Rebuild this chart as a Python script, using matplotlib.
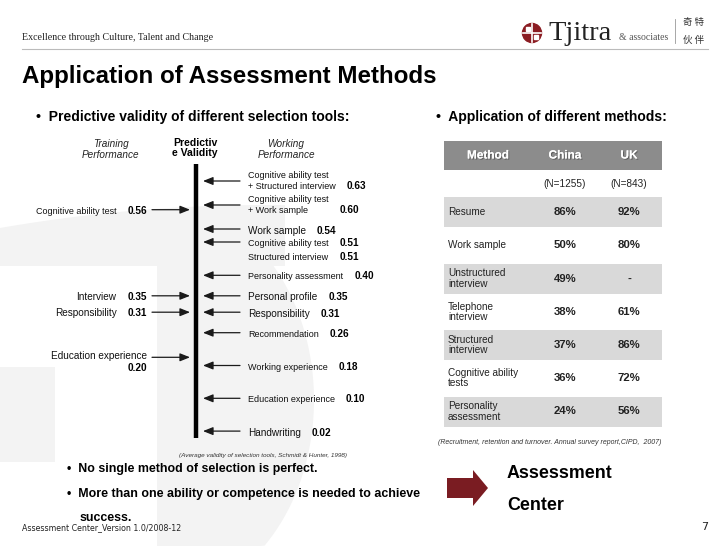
import matplotlib
matplotlib.use("Agg")
import matplotlib.pyplot as plt
import matplotlib.patches as mpatches
import matplotlib.patheffects as pe
import numpy as np

# ---- data ----
right_labels = ["Cognitive ability test\n+ Structured interview",
                "Cognitive ability test\n+ Work sample",
                "Work sample",
                "Cognitive ability test",
                "Structured interview",
                "Personality assessment",
                "Personal profile",
                "Responsibility",
                "Recommendation",
                "Working experience",
                "Education experience",
                "Handwriting"]
right_values = [0.63, 0.60, 0.54, 0.51, 0.51, 0.40, 0.35, 0.31, 0.26, 0.18, 0.10, 0.02]

left_labels = ["Cognitive ability test", "Interview", "Responsibility", "Education experience"]
left_values = [0.56, 0.35, 0.31, 0.20]

methods = ["Resume", "Work sample", "Unstructured\ninterview", "Telephone\ninterview",
           "Structured\ninterview", "Cognitive ability\ntests", "Personality\nassessment"]
china_pct = [86, 50, 49, 38, 37, 36, 24]
uk_pct = [92, 80, None, 61, 86, 72, 56]
table_columns = ["Method", "China", "UK"]
sample_sizes = ["(N=1255)", "(N=843)"]

# ---- styles ----
SANS = "Liberation Sans"
SERIF = "Liberation Serif"
big_right = {"Work sample", "Personal profile", "Responsibility", "Handwriting"}
left_stacked = [False, False, False, True]
WM = "#f3f3f3"

fig = plt.figure(figsize=(7.28, 5.46), dpi=100)

# background axes in slide pixels
bg = fig.add_axes([0, 0, 1, 1])
bg.set_xlim(0, 728)
bg.set_ylim(546, 0)
bg.axis("off")

# faint watermark
xs = np.linspace(0, 285, 60)
top = 205 + 23 * ((xs - 265) / 265) ** 2
band = np.column_stack([np.r_[xs, 285, 0], np.r_[top, 266, 266]])
bg.add_patch(mpatches.Polygon(band, closed=True, color=WM, lw=0, zorder=0))
bg.add_patch(mpatches.Rectangle((0, 367), 55, 95, color=WM, lw=0, zorder=0))
t = np.linspace(-np.pi / 2, np.pi / 2, 80)
dx = 157 + 157 * np.cos(t)
dy = 400 + 200 * np.sin(t)
dshape = np.column_stack([dx, np.clip(dy, 230, 546)])
bg.add_patch(mpatches.Polygon(np.vstack([dshape, [[157, 546], [157, 230]]]),
                              closed=True, color=WM, lw=0, zorder=0))

# header
bg.text(22, 38, "Excellence through Culture, Talent and Change", family=SERIF,
        fontsize=7.2, va="center", color="#222222")
bg.plot([22, 708], [49, 49], color="#bbbbbb", lw=0.8)
bg.add_patch(mpatches.Circle((532, 33), 9.5, color="#8b1c22", zorder=3))
bg.plot([532, 532], [24, 42], color="white", lw=1.2, zorder=4)
bg.plot([523, 541], [33, 33], color="white", lw=1.2, zorder=4)
bg.add_patch(mpatches.Rectangle((526, 27), 4, 4, color="white", zorder=4))
bg.add_patch(mpatches.Rectangle((534, 35), 4, 4, color="white", zorder=4))
bg.text(548, 40, "Tjitra", family=SERIF, fontsize=20.5, va="baseline", color="#222222")
bg.text(619, 40, "& associates", family=SERIF, fontsize=7, va="baseline", color="#555555")
bg.plot([675, 675], [19, 43], color="#999999", lw=0.6)
bg.text(694, 23, "奇 特", family=["Noto Sans CJK SC", "DejaVu Sans"], fontsize=6.8,
        ha="center", va="center", color="#333333")
bg.text(694, 40, "伙 伴", family=["Noto Sans CJK SC", "DejaVu Sans"], fontsize=6.8,
        ha="center", va="center", color="#333333")

bg.text(22, 77, "Application of Assessment Methods", family=SANS, fontsize=17.4,
        weight="bold", va="center")
bg.text(36, 117, "•  Predictive validity of different selection tools:", family=SANS,
        fontsize=10, weight="bold", va="center")
bg.text(436, 117, "•  Application of different methods:", family=SANS,
        fontsize=10, weight="bold", va="center")

# column headings of the validity diagram
bg.text(111, 149.5, "Training\nPerformance", family=SANS, fontsize=7.2, style="italic",
        ha="center", va="center", linespacing=1.05, color="#222222")
bg.text(195, 148, "Predictiv\ne Validity", family=SANS, fontsize=7.6, weight="bold",
        ha="center", va="center", linespacing=1.1)
bg.text(286, 149.5, "Working\nPerformance", family=SANS, fontsize=7.2, style="italic",
        ha="center", va="center", linespacing=1.05, color="#222222")
bg.text(263, 455, "(Average validity of selection tools, Schmidt & Hunter, 1998)",
        family=SANS, fontsize=4.6, style="italic", ha="center", va="center", color="#333333")

# ---- validity diagram: y axis is the validity value ----
PX = 410.0           # slide pixels per validity unit
V_REF, Y_REF = 0.63, 181
ax = fig.add_axes([0, 0, 1, 1])
ax.patch.set_alpha(0)
ax.set_xlim(0, 728)
ax.set_ylim(V_REF - (546 - Y_REF) / PX, V_REF + Y_REF / PX)
ax.axis("off")

# group equal values onto one arrow and push crowded labels down
groups = []
for lab, v in zip(right_labels, right_values):
    if groups and groups[-1][0] == v:
        groups[-1][1].append(lab)
    else:
        groups.append([v, [lab]])
arrow_y = []
prev, prev_lines = None, 0
for v, labs in groups:
    y = v if prev is None else min(v, prev - (11 * prev_lines + 2) / PX)
    arrow_y.append(y)
    prev, prev_lines = y, sum(l.count("\n") + 1 for l in labs)

def down(px):
    return px / PX

arrow_kw = dict(arrowstyle="-|>,head_length=0.6,head_width=0.24", lw=0.9,
                color="#1a1a1a", shrinkA=0, shrinkB=0)

for (v, labs), y in zip(groups, arrow_y):
    ax.annotate("", xy=(203, y), xytext=(240, y), arrowprops=arrow_kw)
    for j, lab in enumerate(labs):
        fs = 7.2 if lab in big_right else 6.5
        if "\n" in lab:
            ty = y
        else:
            ty = y - down(1.5 + 14 * j)
        txt = ax.text(248, ty, lab, family=SANS, fontsize=fs, va="center",
                      linespacing=1.15, color="#111111")
        ax.annotate(f"{v:.2f}", xy=(1, 0), xycoords=txt, xytext=(8, 0),
                    textcoords="offset points", family=SANS, fontsize=7.2,
                    weight="bold", ha="left", va="bottom")

for lab, v, stacked in zip(left_labels, left_values, left_stacked):
    ax.annotate("", xy=(190, v), xytext=(152, v), arrowprops=arrow_kw)
    fs = 6.5 if lab.startswith("Cognitive") else 7.2
    if stacked:
        ax.text(147, v + down(1), lab, family=SANS, fontsize=fs, ha="right",
                va="center", color="#111111")
        ax.text(147, v - down(11), f"{v:.2f}", family=SANS, fontsize=7.2,
                weight="bold", ha="right", va="center")
    else:
        val = ax.text(147, v - down(1), f"{v:.2f}", family=SANS, fontsize=7.2,
                      weight="bold", ha="right", va="center")
        ax.annotate(lab, xy=(0, 0), xycoords=val, xytext=(-8, 0),
                    textcoords="offset points", family=SANS, fontsize=fs,
                    ha="right", va="bottom", color="#111111")

# vertical validity bar
ax.plot([196, 196], [arrow_y[-1] - down(7), arrow_y[0] + down(17)],
        color="black", lw=3.2, solid_capstyle="butt")

# ---- methods table ----
TX0, TX1 = 444, 662
col_x = [448, 565, 629]
bg.add_patch(mpatches.Rectangle((TX0, 141), TX1 - TX0, 29, color="#8c8c8c", lw=0))
shadow = [pe.withSimplePatchShadow(offset=(0.8, -0.8), shadow_rgbFace="#444444", alpha=0.6),
          pe.Normal()]
for k, name in enumerate(table_columns):
    bg.text(col_x[k] + (40 if k == 0 else 0), 155.5, name, family=SANS, fontsize=8.5,
            weight="bold", color="white", ha="center", va="center", path_effects=shadow)
for k, n in enumerate(sample_sizes):
    bg.text(col_x[k + 1], 184, n, family=SANS, fontsize=7.2, ha="center", va="center",
            color="#222222")
for i, (m, c, u) in enumerate(zip(methods, china_pct, uk_pct)):
    ry = 212 + 33.25 * i
    if i % 2 == 0:
        bg.add_patch(mpatches.Rectangle((TX0, ry - 15), TX1 - TX0, 30,
                                        color="#d9d9d9", lw=0))
    bg.text(col_x[0], ry, m, family=SANS, fontsize=7.2, va="center",
            linespacing=1.05, color="#222222")
    bg.text(col_x[1], ry, f"{c}%", family=SANS, fontsize=8.2, weight="bold",
            ha="center", va="center", color="#222222")
    bg.text(col_x[2], ry, "-" if u is None else f"{u}%", family=SANS, fontsize=8.2,
            weight="bold", ha="center", va="center", color="#222222")
bg.text(550, 442, "(Recruitment, retention and turnover. Annual survey report,CIPD,  2007)",
        family=SANS, fontsize=5.0, style="italic", ha="center", va="center", color="#333333")

# ---- conclusions ----
bg.text(67, 469, "•  No single method of selection is perfect.", family=SANS,
        fontsize=8.9, weight="bold", va="center")
bg.text(67, 494, "•  More than one ability or competence is needed to achieve",
        family=SANS, fontsize=8.9, weight="bold", va="center")
bg.text(80, 518, "success.", family=SANS, fontsize=8.9, weight="bold", va="center")
bg.add_patch(mpatches.FancyArrow(447, 488, 41, 0, width=20, head_width=36,
                                 head_length=15, length_includes_head=True,
                                 color="#7a1c22", lw=0))
bg.text(507, 474, "Assessment", family=SANS, fontsize=12.9, weight="bold", va="center")
bg.text(507, 506, "Center", family=SANS, fontsize=12.9, weight="bold", va="center")

# footer
bg.text(22, 528, "Assessment Center_Version 1.0/2008-12", family="DejaVu Sans",
        fontsize=5.7, va="center", color="#222222")
bg.text(708, 527, "7", family="DejaVu Sans", fontsize=8, ha="right", va="center",
        color="#222222")

fig.savefig("out.png", dpi=100)
